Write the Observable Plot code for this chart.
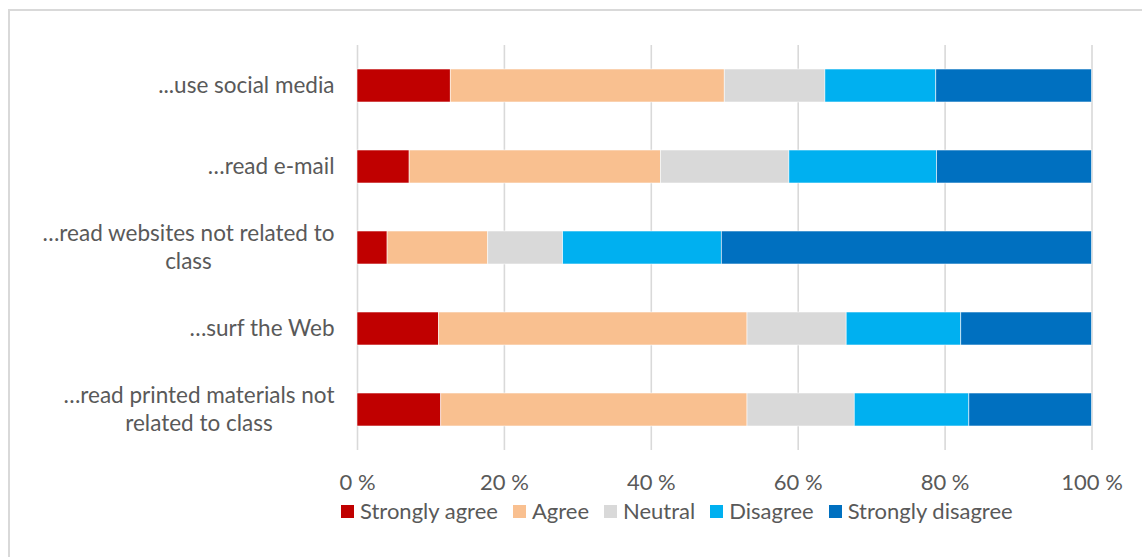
<!DOCTYPE html>
<html><head><meta charset="utf-8">
<script src="https://cdn.jsdelivr.net/npm/d3@7"></script>
<script src="https://cdn.jsdelivr.net/npm/@observablehq/plot@0.6"></script>
<style>
body{margin:0;background:#fff;font-family:Lato,"Open Sans",sans-serif;}
#wrap{position:relative;width:1142px;height:557px;overflow:hidden;background:#fff;}
#frame{position:absolute;left:8px;top:9px;width:1200px;height:600px;border-left:2px solid #d9d9d9;border-top:2px solid #d9d9d9;}
#chart{position:absolute;left:0;top:0;}
#legend{position:absolute;left:341px;top:498px;display:flex;align-items:center;font-size:22px;line-height:26px;color:#595959;white-space:nowrap;}
.item{display:flex;align-items:center;margin-right:15px;}
.sw{width:13px;height:13px;margin-right:6px;}
</style></head><body>
<div id="wrap"><div id="frame"></div><div id="chart"></div><div id="legend"></div></div>
<script>
const categories = ["...use social media", "…read e-mail", "…read websites not related to\nclass", "…surf the Web", "…read printed materials not\nrelated to class"];
const responses = ["Strongly agree", "Agree", "Neutral", "Disagree", "Strongly disagree"];
const stronglyAgree    = [12.7,  7.1,  4.1, 11.1, 11.4];
const agree            = [37.3, 34.2, 13.7, 42.0, 41.7];
const neutral          = [13.7, 17.5, 10.2, 13.5, 14.6];
const disagree         = [15.1, 20.1, 21.6, 15.6, 15.6];
const stronglyDisagree = [21.2, 21.1, 50.4, 17.8, 16.7];
const colors = ["#C00000", "#F9C090", "#D9D9D9", "#00B0F0", "#0070C0"];
const xTicks = [0, 20, 40, 60, 80, 100];

const series = [stronglyAgree, agree, neutral, disagree, stronglyDisagree];
const rows = categories.flatMap((c, i) => responses.map((r, j) => ({category: c, response: r, value: series[j][i]})));

const chart = Plot.plot({
  width: 1142, height: 500,
  marginLeft: 357, marginRight: 50.5, marginTop: 45, marginBottom: 50,
  style: {fontFamily: "Lato, 'Open Sans', sans-serif", fontSize: "22px", color: "#595959", background: "transparent"},
  x: {domain: [0, 100]},
  y: {domain: categories, padding: 0},
  color: {domain: responses, range: colors},
  marks: [
    Plot.gridX(xTicks, {stroke: "#d9d9d9", strokeOpacity: 1, strokeWidth: 1.6}),
    Plot.barX(rows, Plot.stackX({x: "value", y: "category", fill: "response", order: responses,
      insetTop: 24, insetBottom: 24, stroke: "#ffffff", strokeWidth: 0.7, strokeOpacity: 0.8})),
    Plot.axisX(xTicks, {tickSize: 0, tickPadding: 24, tickFormat: d => d + " %", fontSize: 22, fill: "#595959", label: null}),
    Plot.axisY({tickSize: 0, tickPadding: 23, dy: -2, fontSize: 22.5, lineHeight: 1.25, fill: "#595959", label: null})
  ]
});
document.getElementById("chart").append(chart);

// center the lines of multi-line category labels within their right-aligned block
chart.querySelectorAll('g[aria-label="y-axis tick label"] text').forEach(t => {
  const spans = t.querySelectorAll("tspan");
  if (spans.length > 1) {
    const w = d3.max(Array.from(spans), s => s.getComputedTextLength());
    t.setAttribute("text-anchor", "middle");
    spans.forEach(s => s.setAttribute("x", -w / 2));
  }
});

const legend = d3.select("#legend");
responses.forEach((r, i) => {
  const item = legend.append("div").attr("class", "item");
  item.append("div").attr("class", "sw").style("background", colors[i]);
  item.append("span").text(r);
});
</script>
</body></html>
